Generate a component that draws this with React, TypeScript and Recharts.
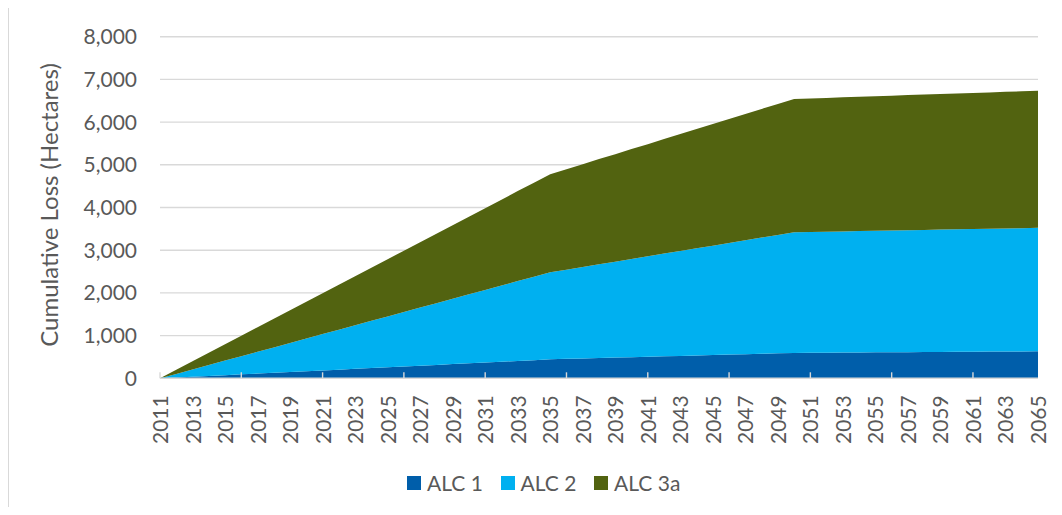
import { AreaChart, Area, XAxis, YAxis, CartesianGrid, Legend, Label } from 'recharts';

// Years 2011..2065, one value per year per land grade (hectares)
const YEARS = [
  2011, 2012, 2013, 2014, 2015, 2016, 2017, 2018, 2019, 2020,
  2021, 2022, 2023, 2024, 2025, 2026, 2027, 2028, 2029, 2030,
  2031, 2032, 2033, 2034, 2035, 2036, 2037, 2038, 2039, 2040,
  2041, 2042, 2043, 2044, 2045, 2046, 2047, 2048, 2049, 2050,
  2051, 2052, 2053, 2054, 2055, 2056, 2057, 2058, 2059, 2060,
  2061, 2062, 2063, 2064, 2065,
];

const ALC1 = [
  0, 18, 37, 55, 74, 92, 111, 129, 148, 166,
  185, 203, 222, 240, 259, 277, 296, 314, 333, 351,
  370, 388, 407, 425, 445, 455, 465, 475, 485, 495,
  505, 515, 525, 535, 545, 555, 565, 575, 585, 595,
  598, 600, 603, 605, 608, 610, 613, 615, 618, 620,
  623, 625, 628, 630, 633,
];

const ALC2 = [
  0, 85, 170, 255, 340, 425, 510, 595, 680, 765,
  850, 935, 1020, 1105, 1190, 1275, 1360, 1445, 1530, 1615,
  1700, 1785, 1870, 1955, 2037, 2090, 2142, 2195, 2247, 2300,
  2352, 2405, 2457, 2510, 2562, 2615, 2667, 2720, 2772, 2824,
  2828, 2833, 2837, 2842, 2846, 2850, 2855, 2859, 2864, 2868,
  2872, 2877, 2881, 2886, 2890,
];

const ALC3A = [
  0, 96, 192, 287, 383, 479, 575, 670, 766, 862,
  958, 1053, 1149, 1245, 1341, 1436, 1532, 1628, 1724, 1819,
  1915, 2011, 2107, 2202, 2298, 2353, 2408, 2463, 2518, 2573,
  2627, 2682, 2737, 2792, 2847, 2902, 2957, 3012, 3067, 3122,
  3128, 3134, 3140, 3146, 3152, 3158, 3164, 3170, 3175, 3181,
  3187, 3193, 3199, 3205, 3211,
];

const Y_TICKS = [0, 1000, 2000, 3000, 4000, 5000, 6000, 7000, 8000];

const SERIES = [
  { key: 'alc1', name: 'ALC 1', color: '#005EAA' },
  { key: 'alc2', name: 'ALC 2', color: '#00B0F0' },
  { key: 'alc3a', name: 'ALC 3a', color: '#526310' },
];

const data = YEARS.map((year, i) => ({
  year,
  alc1: ALC1[i],
  alc2: ALC2[i],
  alc3a: ALC3A[i],
}));

const TEXT = '#595959';
const GRID = '#D9D9D9';
const FONT_SIZE = 21;

// labels every 2 years, tick marks every 5 years (as in the Excel original)
const YearTick = ({ x, y, payload }: { x: number; y: number; payload: { value: number } }) => {
  const year = Number(payload.value);
  const k = year - YEARS[0];
  return (
    <g>
      {k % 5 === 0 && (
        <line x1={x} x2={x} y1={y} y2={y - 6} stroke={GRID} strokeWidth={1.4} />
      )}
      {k % 2 === 0 && (
        <text
          transform={`translate(${x + 8},${y + 17}) rotate(-90)`}
          textAnchor="end"
          fill={TEXT}
          fontSize={FONT_SIZE}
        >
          {year}
        </text>
      )}
    </g>
  );
};

const AxisTitle = () => (
  <text
    transform="translate(49,197) rotate(-90)"
    textAnchor="middle"
    fill={TEXT}
    fontSize={24}
  >
    Cumulative Loss (Hectares)
  </text>
);

const LegendBox = () => (
  <div style={{ display: 'flex', alignItems: 'center', height: 30, paddingLeft: 398 }}>
    {SERIES.map((s, i) => (
      <div
        key={s.key}
        style={{ display: 'flex', alignItems: 'center', width: i < 2 ? 93.5 : 'auto' }}
      >
        <span style={{ width: 14, height: 14, backgroundColor: s.color, marginRight: 6 }} />
        <span style={{ fontSize: FONT_SIZE, color: TEXT, lineHeight: '30px' }}>{s.name}</span>
      </div>
    ))}
  </div>
);

export default function App() {
  return (
    <div
      style={{
        width: 1053,
        height: 499,
        marginTop: -1,
        borderTop: `1px solid ${GRID}`,
        borderLeft: `1px solid ${GRID}`,
        fontFamily: 'Lato, "Noto Sans", sans-serif',
        overflow: 'hidden',
      }}
    >
      <AreaChart
        width={1053}
        height={499}
        data={data}
        margin={{ top: 28.7, right: 24, left: 51, bottom: 28.7 }}
      >
        <CartesianGrid vertical={false} stroke={GRID} strokeWidth={1.4} />
        <YAxis
          domain={[0, 8000]}
          ticks={Y_TICKS}
          width={100}
          axisLine={false}
          tickLine={false}
          tickSize={0}
          tickMargin={23}
          tick={{ fill: TEXT, fontSize: FONT_SIZE }}
          tickFormatter={(v) => Number(v).toLocaleString('en-US')}
        >
          <Label content={<AxisTitle />} />
        </YAxis>
        {SERIES.map((s) => (
          <Area
            key={s.key}
            type="linear"
            dataKey={s.key}
            name={s.name}
            stackId="1"
            stroke="none"
            fill={s.color}
            fillOpacity={1}
            dot={false}
            activeDot={false}
            isAnimationActive={false}
          />
        ))}
        <XAxis
          dataKey="year"
          interval={0}
          height={70}
          tickSize={0}
          tickMargin={0}
          tickLine={false}
          axisLine={{ stroke: GRID, strokeWidth: 1.5 }}
          tick={YearTick}
        />
        <Legend
          content={<LegendBox />}
          verticalAlign="bottom"
          height={30}
          wrapperStyle={{ top: 460, left: 0, width: 1053, height: 30 }}
        />
      </AreaChart>
    </div>
  );
}
